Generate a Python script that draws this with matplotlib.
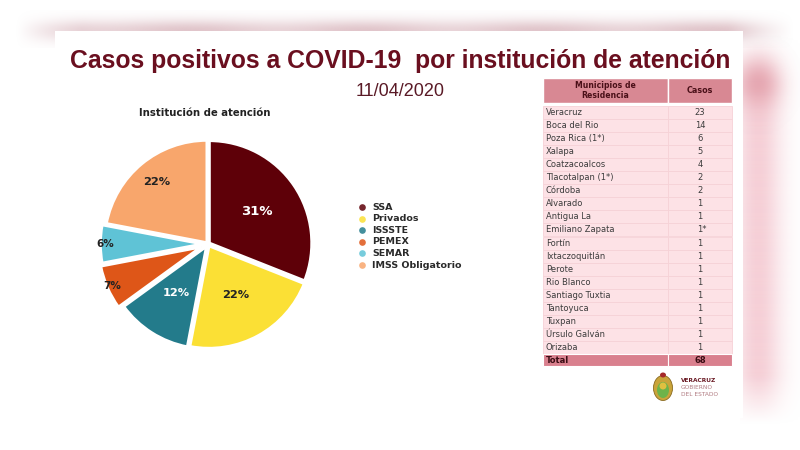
import numpy as np
import matplotlib
matplotlib.use("Agg")
import matplotlib.pyplot as plt
from matplotlib.patches import Rectangle, Ellipse
from matplotlib.colors import LinearSegmentedColormap, to_rgb

# ---------------- data ----------------
institutions = ["SSA", "Privados", "ISSSTE", "PEMEX", "SEMAR", "IMSS Obligatorio"]
shares = [31, 22, 12, 7, 6, 22]
inst_colors = ["#5e0008", "#fbe035", "#237b8b", "#de5618", "#5fc3d6", "#f8a66c"]

municipios = ["Veracruz", "Boca del Rio", "Poza Rica (1*)", "Xalapa", "Coatzacoalcos",
              "Tlacotalpan (1*)", "Córdoba", "Alvarado", "Antigua La", "Emiliano Zapata",
              "Fortín", "Ixtaczoquitlán", "Perote", "Rio Blanco", "Santiago Tuxtia",
              "Tantoyuca", "Tuxpan", "Úrsulo Galván", "Orizaba"]
casos = ["23", "14", "6", "5", "4", "2", "2", "1", "1", "1*",
         "1", "1", "1", "1", "1", "1", "1", "1", "1"]
total_label = "Total"
total_value = "68"

title = "Casos positivos a COVID-19  por institución de atención"
date = "11/04/2020"
pie_title = "Institución de atención"


def fade_cmap(name, color):
    r, g, b = to_rgb(color)
    return LinearSegmentedColormap.from_list(name, [(r, g, b, 0.0), (r, g, b, 1.0)])


# ---------------- figure ----------------
W, H = 800, 450
fig = plt.figure(figsize=(8, 4.5), dpi=100)
fig.patch.set_facecolor("white")
bg = fig.add_axes([0, 0, 1, 1])
bg.set_xlim(0, W)
bg.set_ylim(H, 0)
bg.axis("off")

# blurred video background (decoration)
yy = np.linspace(0, 1, 60)[:, None]
xx = np.linspace(0, 1, 200)[None, :]
band = np.exp(-((yy - 0.55) / 0.3) ** 2) * (0.75 + 0.25 * np.cos(xx * 14) ** 2) \
    * np.clip(np.minimum(xx, 1 - xx) * 12, 0, 1)
bg.imshow(band, extent=(15, 795, 48, 10), cmap=fade_cmap("p", "#d8b4bb"), vmin=0, vmax=1.3,
          aspect="auto", zorder=0.2, interpolation="bicubic")
sy = np.linspace(0, 1, 120)[:, None]
sx = np.linspace(0, 1, 60)[None, :]
side = np.exp(-((sx - 0.3) / 0.4) ** 2) * np.clip(np.minimum(sy, 1 - sy) * 8, 0, 1)
bg.imshow(side, extent=(740, 800, 425, 35), cmap=fade_cmap("s", "#f6d0d7"), vmin=0, vmax=1,
          aspect="auto", zorder=0.1, interpolation="bicubic")
blob = np.exp(-((sy - 0.12) / 0.06) ** 2) * np.exp(-((sx - 0.3) / 0.35) ** 2)
bg.imshow(blob, extent=(740, 800, 425, 35), cmap=fade_cmap("b", "#e3a0ab"), vmin=0, vmax=1.2,
          aspect="auto", zorder=0.15, interpolation="bicubic")

# slide
bg.add_patch(Rectangle((55, 31), 688, 387, facecolor="white", edgecolor="none", zorder=1))

bg.text(400, 61, title, ha="center", va="center", fontsize=17.8, fontweight="bold",
        color="#6a0f1f", family="Liberation Sans", zorder=3)
bg.text(400, 91, date, ha="center", va="center", fontsize=13, color="#5a1a26",
        family="Liberation Sans", zorder=3)
bg.text(205, 113, pie_title, ha="center", va="center", fontsize=7.3, fontweight="bold",
        color="#222222", family="DejaVu Sans", zorder=3)

# legend
leg_x, leg_y0, leg_dy = 362, 207, 11.6
for i, (name, col) in enumerate(zip(institutions, inst_colors)):
    y = leg_y0 + i * leg_dy
    bg.plot(leg_x, y, "o", ms=4.8, color=col, alpha=0.85, mec="none", zorder=3)
    bg.text(leg_x + 10, y, name, ha="left", va="center", fontsize=6.8,
            fontweight="bold", color="#2a2a2a", zorder=3)

# table
tx0, tx1, tx2 = 543, 668, 732
hy0, hy1 = 78, 103
ry0, rh = 105.5, 13.1
for xa, xb in ((tx0, tx1), (tx1, tx2)):
    bg.add_patch(Rectangle((xa, hy0), xb - xa, hy1 - hy0, facecolor="#d88893",
                           edgecolor="white", lw=1, zorder=2))
bg.text((tx0 + tx1) / 2, (hy0 + hy1) / 2, "Municipios de\nResidencia", ha="center", va="center",
        fontsize=5.6, fontweight="bold", color="#4a1018", linespacing=1.1, zorder=3)
bg.text((tx1 + tx2) / 2, (hy0 + hy1) / 2, "Casos", ha="center", va="center",
        fontsize=5.8, fontweight="bold", color="#4a1018", zorder=3)
for i, (m, c) in enumerate(zip(municipios, casos)):
    y = ry0 + i * rh
    for xa, xb in ((tx0, tx1), (tx1, tx2)):
        bg.add_patch(Rectangle((xa, y), xb - xa, rh, facecolor="#fde2e6",
                               edgecolor="#f6d2d7", lw=0.6, zorder=2))
    bg.text(tx0 + 3, y + rh / 2, m, ha="left", va="center", fontsize=6,
            color="#3c3c3c", zorder=3)
    if "*" in c:
        bg.text(697, y + rh / 2, c, ha="left", va="center", fontsize=6,
                color="#3c3c3c", zorder=3)
    else:
        bg.text(700, y + rh / 2, c, ha="center", va="center", fontsize=6,
                color="#3c3c3c", zorder=3)
ty = ry0 + len(municipios) * rh
for xa, xb in ((tx0, tx1), (tx1, tx2)):
    bg.add_patch(Rectangle((xa, ty), xb - xa, 12, facecolor="#d9808e",
                           edgecolor="white", lw=0.8, zorder=2))
bg.text(tx0 + 3, ty + 6, total_label, ha="left", va="center", fontsize=6,
        fontweight="bold", color="#3a0d14", zorder=3)
bg.text(700, ty + 6, total_value, ha="center", va="center", fontsize=6,
        fontweight="bold", color="#3a0d14", zorder=3)

# logo
bg.add_patch(Ellipse((663, 388), 19, 25, facecolor="#c9a43a", edgecolor="#8a6a20", lw=0.6, zorder=3))
bg.add_patch(Ellipse((663, 390), 12, 16, facecolor="#6db34a", edgecolor="none", zorder=4))
bg.add_patch(Ellipse((663, 386), 7, 7, facecolor="#e0c040", edgecolor="none", zorder=5))
bg.add_patch(Ellipse((663, 375), 6, 5, facecolor="#a52a2a", edgecolor="none", zorder=5))
bg.text(681, 381, "VERACRUZ", ha="left", va="center", fontsize=4.2, fontweight="bold",
        color="#6a1a24", zorder=3)
bg.text(681, 387.5, "GOBIERNO", ha="left", va="center", fontsize=4.2, color="#b07a80", zorder=3)
bg.text(681, 394, "DEL ESTADO", ha="left", va="center", fontsize=4.2, color="#b07a80", zorder=3)

# pie
cx, cy = 208, 244
pax = fig.add_axes([(cx - 120) / W, (H - cy - 120) / H, 240 / W, 240 / H])
explode = [0.015, 0.02, 0.025, 0.07, 0.05, 0.015]
wedges, texts, autotexts = pax.pie(
    shares, colors=inst_colors, startangle=90, counterclock=False, explode=explode,
    radius=1.0, autopct=lambda p: f"{p:.0f}%", pctdistance=0.57,
    wedgeprops=dict(edgecolor="white", linewidth=2.2),
    textprops=dict(fontsize=8, fontweight="bold"))
pax.set_xlim(-1.17, 1.17)
pax.set_ylim(-1.17, 1.17)
pax.set_aspect("auto")
pax.axis("off")
label_dist = [0.57, 0.57, 0.57, 1.02, 1.0, 0.78]
label_col = ["white", "#222222", "white", "#222222", "#222222", "#222222"]
label_size = [9.5, 8.2, 8.2, 7.5, 7.5, 8.2]
for w, t, d, c, s in zip(wedges, autotexts, label_dist, label_col, label_size):
    ang = np.deg2rad((w.theta1 + w.theta2) / 2)
    t.set_position((d * np.cos(ang), d * np.sin(ang)))
    t.set_color(c)
    t.set_fontsize(s)

fig.savefig("out.png", dpi=100, facecolor=fig.get_facecolor())
